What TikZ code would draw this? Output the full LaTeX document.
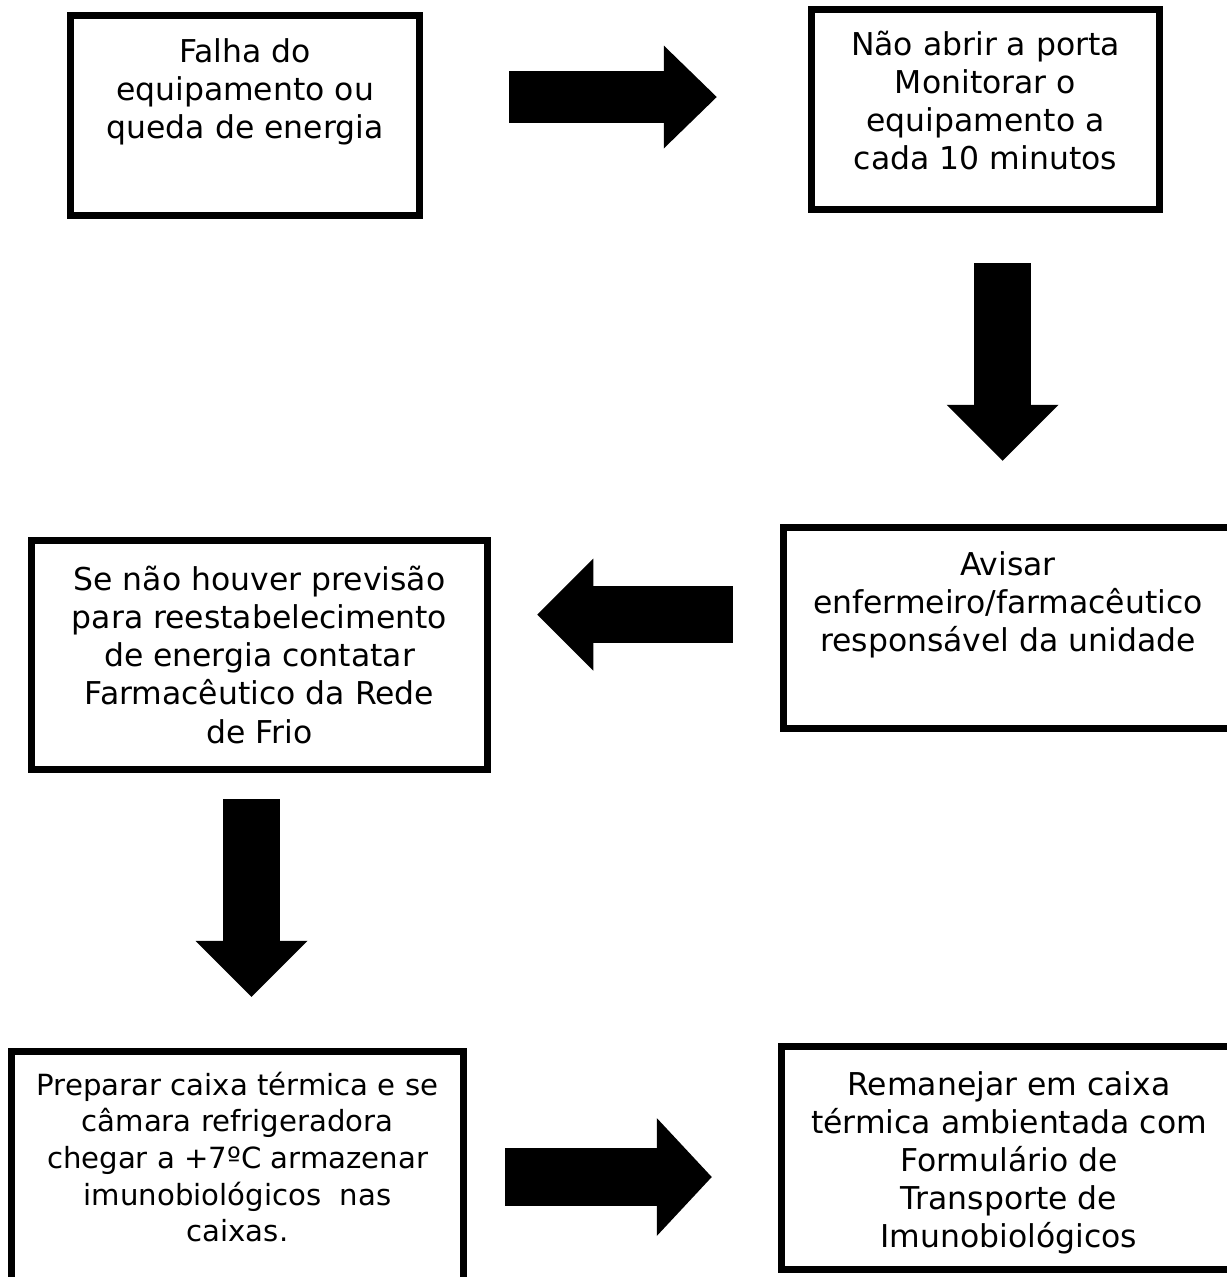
\documentclass[tikz,border=0pt]{standalone}
\usepackage{fontspec}
\setmainfont{DejaVu Sans}
\usetikzlibrary{arrows.meta, positioning}

\begin{document}
\begin{tikzpicture}[
  box/.style={draw=black, line width=0.15cm, fill=white, inner sep=0pt},
  txt/.style={align=center, inner sep=0pt, font=\fontsize{17.9pt}{21.7pt}\selectfont},
  bigarrow/.style={line width=1.14cm, -{Triangle[length=1.12cm, width=2.24cm, line width=0pt]}}
]
  \useasboundingbox (0,0) rectangle (24.54,-25.54);

  % Boxes
  \node[box, minimum width=6.98cm, minimum height=4.00cm] (falha) at (4.90,-2.31) {};
  \node[box, minimum width=6.96cm, minimum height=4.00cm] (porta) at (19.71,-2.19) {};
  \node[box, minimum width=8.98cm, minimum height=4.02cm] (avisar) at (20.16,-12.56) {};
  \node[box, minimum width=9.12cm, minimum height=4.58cm] (rede) at (5.19,-13.10) {};
  \node[box, minimum width=9.04cm, minimum height=4.80cm] (caixa) at (4.75,-23.43) {};
  \node[box, minimum width=9.10cm, minimum height=4.46cm] (remanejar) at (20.18,-23.16) {};

  % Texts
  \node[txt, below=0.52cm of falha.north] (falhatxt) {Falha do\\equipamento ou\\queda de energia};
  \node[txt, below=0.50cm of porta.north] (portatxt) {Não abrir a porta\\Monitorar o\\equipamento a\\cada 10 minutos};
  \node[txt, below=0.54cm of avisar.north] (avisartxt) {Avisar\\enfermeiro/farmacêutico\\responsável da unidade};
  \node[txt, below=0.58cm of rede.north] (redetxt) {Se não houver previsão\\para reestabelecimento\\de energia contatar\\Farmacêutico da Rede\\de Frio};
  \node[txt, below=0.48cm of caixa.north, font=\fontsize{16.6pt}{20.8pt}\selectfont] (caixatxt) {Preparar caixa térmica e se\\câmara refrigeradora\\chegar a +7ºC armazenar\\imunobiológicos\ \ nas\\caixas.};
  \node[txt, below=0.56cm of remanejar.north] (remanejartxt) {Remanejar em caixa\\térmica ambientada com\\Formulário de\\Transporte de\\Imunobiológicos};

  % Arrows
  \draw[bigarrow, line width=1.04cm, -{Triangle[length=1.06cm, width=2.06cm, line width=0pt]}, shorten <=1.72cm, shorten >=1.82cm] (falha.east |- 0,-1.94) -- (porta.west |- 0,-1.94);
  \draw[bigarrow, shorten <=1.00cm, shorten >=1.26cm] (porta.south -| 20.05,0) -- (avisar.north -| 20.05,0);
  \draw[bigarrow, shorten <=0.94cm, shorten >=0.92cm] (avisar.west |- 0,-12.29) -- (rede.east |- 0,-12.29);
  \draw[bigarrow, shorten <=0.52cm, shorten >=1.02cm] (rede.south -| 5.03,0) -- (caixa.north -| 5.03,0);
  \draw[bigarrow, line width=1.16cm, -{Triangle[length=1.10cm, width=2.36cm, line width=0pt]}, shorten <=0.76cm, shorten >=1.32cm] (caixa.east |- 0,-23.54) -- (remanejar.west |- 0,-23.54);
\end{tikzpicture}
\end{document}
